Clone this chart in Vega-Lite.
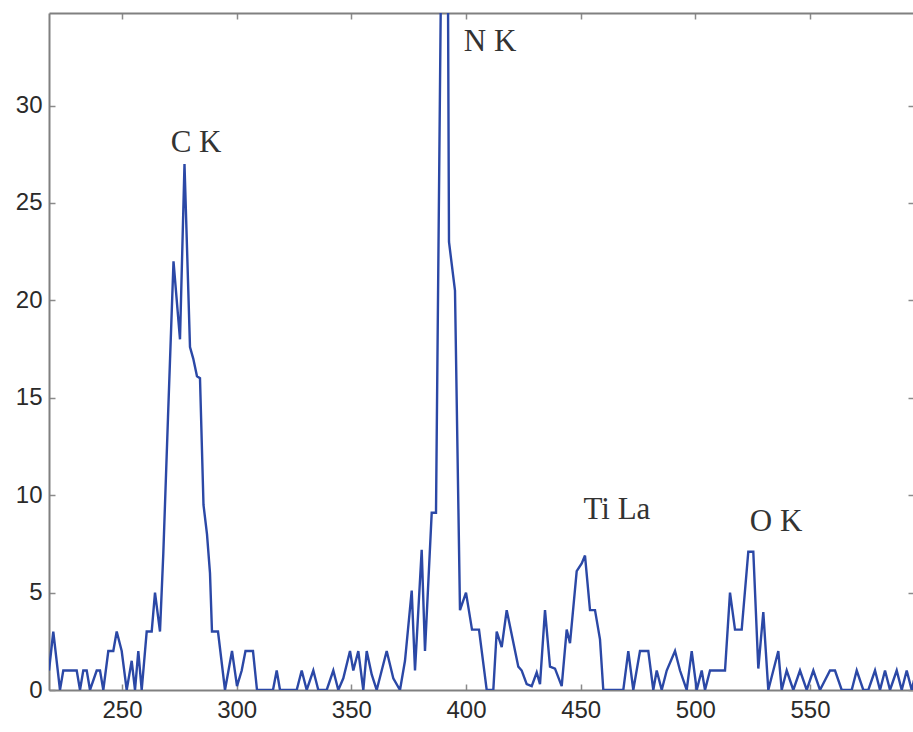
{
  "$schema": "https://vega.github.io/schema/vega-lite/v6.json",
  "width": 865,
  "height": 677,
  "autosize": {"type": "none"},
  "padding": {"left": 49, "top": 13, "right": 0, "bottom": 42},
  "background": "white",
  "config": {
    "view": {"stroke": null},
    "axis": {
      "domainColor": "#808080",
      "domainWidth": 2,
      "tickColor": "#8a8a8a",
      "tickWidth": 1.5,
      "tickSize": -6,
      "grid": false,
      "title": null,
      "labelFont": "Liberation Sans",
      "labelFontSize": 24,
      "labelColor": "#2a2a2a"
    }
  },
  "datasets": {
    "spectrum": [
      {"ev": 218.17, "counts": 1}, {"ev": 220.04, "counts": 3}, {"ev": 222.96, "counts": 0},
      {"ev": 224.40, "counts": 1}, {"ev": 230.25, "counts": 1}, {"ev": 231.69, "counts": 0},
      {"ev": 233.12, "counts": 1}, {"ev": 234.61, "counts": 1}, {"ev": 236.05, "counts": 0},
      {"ev": 238.97, "counts": 1}, {"ev": 240.41, "counts": 1}, {"ev": 241.85, "counts": 0},
      {"ev": 244.03, "counts": 2}, {"ev": 246.21, "counts": 2}, {"ev": 247.69, "counts": 3},
      {"ev": 249.87, "counts": 2}, {"ev": 252.05, "counts": 0}, {"ev": 254.23, "counts": 1.5},
      {"ev": 255.67, "counts": 0}, {"ev": 257.11, "counts": 2}, {"ev": 258.59, "counts": 0},
      {"ev": 260.77, "counts": 3}, {"ev": 262.95, "counts": 3}, {"ev": 264.39, "counts": 5},
      {"ev": 266.57, "counts": 3}, {"ev": 268.01, "counts": 7}, {"ev": 270.06, "counts": 14},
      {"ev": 272.46, "counts": 22}, {"ev": 275.29, "counts": 18}, {"ev": 277.25, "counts": 27},
      {"ev": 279.65, "counts": 17.6}, {"ev": 281.09, "counts": 17}, {"ev": 282.70, "counts": 16.1},
      {"ev": 284.01, "counts": 16}, {"ev": 285.54, "counts": 9.5}, {"ev": 287.06, "counts": 8},
      {"ev": 288.37, "counts": 6}, {"ev": 289.24, "counts": 3}, {"ev": 291.86, "counts": 3},
      {"ev": 294.91, "counts": 0}, {"ev": 297.97, "counts": 2}, {"ev": 300.15, "counts": 0.2},
      {"ev": 302.20, "counts": 1}, {"ev": 303.85, "counts": 2}, {"ev": 307.12, "counts": 2},
      {"ev": 308.87, "counts": 0}, {"ev": 315.84, "counts": 0}, {"ev": 317.46, "counts": 1},
      {"ev": 318.90, "counts": 0}, {"ev": 326.18, "counts": 0}, {"ev": 328.36, "counts": 1},
      {"ev": 330.54, "counts": 0}, {"ev": 333.42, "counts": 1}, {"ev": 335.60, "counts": 0},
      {"ev": 339.26, "counts": 0}, {"ev": 342.14, "counts": 1}, {"ev": 344.32, "counts": 0},
      {"ev": 346.50, "counts": 0.6}, {"ev": 349.42, "counts": 2}, {"ev": 350.86, "counts": 1},
      {"ev": 353.04, "counts": 2}, {"ev": 355.22, "counts": 0}, {"ev": 356.70, "counts": 2},
      {"ev": 358.88, "counts": 0.8}, {"ev": 361.06, "counts": 0}, {"ev": 363.24, "counts": 1},
      {"ev": 365.42, "counts": 2}, {"ev": 368.30, "counts": 0.6}, {"ev": 371.22, "counts": 0},
      {"ev": 373.40, "counts": 1.5}, {"ev": 376.33, "counts": 5.1}, {"ev": 377.76, "counts": 1},
      {"ev": 380.68, "counts": 7.2}, {"ev": 382.12, "counts": 2}, {"ev": 385.05, "counts": 9.1},
      {"ev": 386.92, "counts": 9.1}, {"ev": 389.54, "counts": 42}, {"ev": 391.93, "counts": 42},
      {"ev": 392.59, "counts": 23}, {"ev": 395.20, "counts": 20.5}, {"ev": 397.38, "counts": 4.1},
      {"ev": 400.00, "counts": 5}, {"ev": 402.62, "counts": 3.1}, {"ev": 405.67, "counts": 3.1},
      {"ev": 409.03, "counts": 0}, {"ev": 411.91, "counts": 0}, {"ev": 413.39, "counts": 3},
      {"ev": 415.57, "counts": 2.2}, {"ev": 417.75, "counts": 4.1}, {"ev": 422.81, "counts": 1.2},
      {"ev": 424.29, "counts": 1}, {"ev": 426.47, "counts": 0.3}, {"ev": 428.65, "counts": 0.2},
      {"ev": 430.83, "counts": 0.9}, {"ev": 432.27, "counts": 0.3}, {"ev": 434.45, "counts": 4.1},
      {"ev": 436.63, "counts": 1.2}, {"ev": 438.81, "counts": 1.1}, {"ev": 441.73, "counts": 0.2},
      {"ev": 443.91, "counts": 3.1}, {"ev": 445.35, "counts": 2.4}, {"ev": 448.27, "counts": 6.1},
      {"ev": 450.45, "counts": 6.5}, {"ev": 451.89, "counts": 6.9}, {"ev": 454.07, "counts": 4.1},
      {"ev": 456.25, "counts": 4.1}, {"ev": 458.43, "counts": 2.6}, {"ev": 459.87, "counts": 0},
      {"ev": 468.59, "counts": 0}, {"ev": 470.77, "counts": 2}, {"ev": 472.95, "counts": 0},
      {"ev": 475.87, "counts": 2}, {"ev": 479.49, "counts": 2}, {"ev": 481.67, "counts": 0},
      {"ev": 483.16, "counts": 1}, {"ev": 485.34, "counts": 0}, {"ev": 487.52, "counts": 1},
      {"ev": 491.14, "counts": 2}, {"ev": 493.32, "counts": 1}, {"ev": 496.24, "counts": 0},
      {"ev": 498.42, "counts": 2}, {"ev": 500.60, "counts": 0}, {"ev": 502.78, "counts": 1},
      {"ev": 504.22, "counts": 0}, {"ev": 506.40, "counts": 1}, {"ev": 512.94, "counts": 1},
      {"ev": 515.12, "counts": 5}, {"ev": 517.30, "counts": 3.1}, {"ev": 520.22, "counts": 3.1},
      {"ev": 523.10, "counts": 7.1}, {"ev": 525.28, "counts": 7.1}, {"ev": 527.46, "counts": 1.1},
      {"ev": 529.64, "counts": 4}, {"ev": 531.82, "counts": 0}, {"ev": 534.00, "counts": 1},
      {"ev": 536.18, "counts": 2}, {"ev": 537.66, "counts": 0}, {"ev": 539.84, "counts": 1},
      {"ev": 542.72, "counts": 0}, {"ev": 545.64, "counts": 1}, {"ev": 548.57, "counts": 0},
      {"ev": 551.45, "counts": 1}, {"ev": 554.36, "counts": 0}, {"ev": 558.72, "counts": 1},
      {"ev": 560.90, "counts": 1}, {"ev": 563.83, "counts": 0}, {"ev": 568.19, "counts": 0},
      {"ev": 570.37, "counts": 1}, {"ev": 573.25, "counts": 0}, {"ev": 575.43, "counts": 0},
      {"ev": 578.35, "counts": 1}, {"ev": 580.53, "counts": 0}, {"ev": 582.71, "counts": 1},
      {"ev": 584.89, "counts": 0}, {"ev": 587.81, "counts": 1}, {"ev": 589.99, "counts": 0},
      {"ev": 592.17, "counts": 1}, {"ev": 594.35, "counts": 0}, {"ev": 595.35, "counts": 0.5}
    ],
    "labels": [
      {"ev": 282.3, "counts": 28.1, "name": "C K"},
      {"ev": 410.5, "counts": 33.26, "name": "N K"},
      {"ev": 465.8, "counts": 9.22, "name": "Ti La"},
      {"ev": 535.2, "counts": 8.6, "name": "O K"}
    ]
  },
  "layer": [
    {
      "data": {"name": "spectrum"},
      "mark": {"type": "line", "color": "#2b48a6", "strokeWidth": 2.4, "clip": true, "interpolate": "linear"},
      "encoding": {
        "x": {"field": "ev", "type": "quantitative", "scale": {"domain": [218.17, 595.35], "nice": false, "zero": false},
              "axis": {"orient": "bottom", "values": [250, 300, 350, 400, 450, 500, 550], "labelPadding": 14}},
        "y": {"field": "counts", "type": "quantitative", "scale": {"domain": [0, 34.75], "nice": false, "zero": false},
              "axis": {"orient": "left", "values": [0, 5, 10, 15, 20, 25, 30], "labelPadding": 13}}
      }
    },
    {
      "data": {"name": "spectrum"},
      "mark": {"type": "line", "strokeOpacity": 0, "clip": true},
      "encoding": {
        "x": {"field": "ev", "type": "quantitative", "axis": {"orient": "top", "values": [250, 300, 350, 400, 450, 500, 550], "labels": false}},
        "y": {"field": "counts", "type": "quantitative", "axis": {"orient": "right", "values": [0, 5, 10, 15, 20, 25, 30], "labels": false}}
      }
    },
    {
      "data": {"name": "labels"},
      "mark": {"type": "text", "font": "Liberation Serif", "fontSize": 31, "color": "#333333", "align": "center", "baseline": "middle"},
      "encoding": {
        "x": {"field": "ev", "type": "quantitative", "axis": null},
        "y": {"field": "counts", "type": "quantitative", "axis": null},
        "text": {"field": "name"}
      }
    }
  ],
  "resolve": {"axis": {"x": "independent", "y": "independent"}}
}
